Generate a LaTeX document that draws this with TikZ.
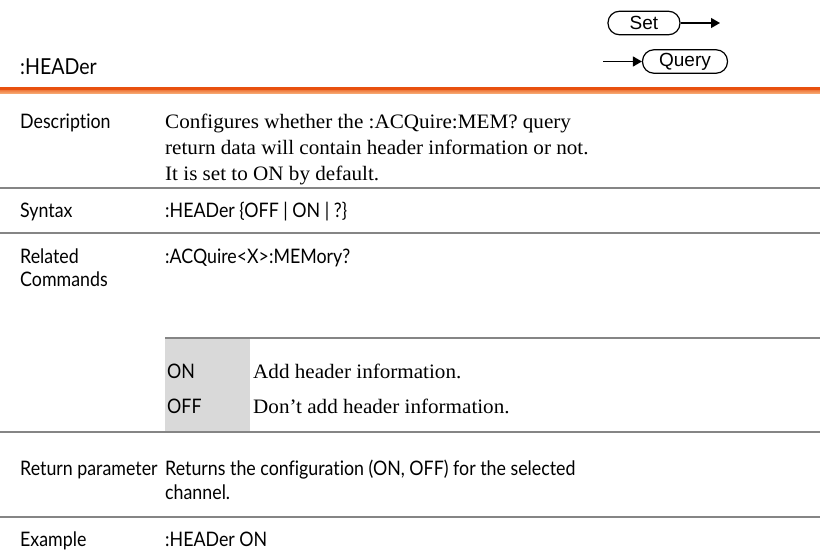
\documentclass[tikz,border=0pt]{standalone}
\usepackage{fontspec}
\setmainfont{Liberation Serif}[FakeStretch=1.03]
\newfontfamily\labelfont{Lato}[Ligatures=NoCommon, FakeStretch=0.89]
\newfontfamily\btnfont{Liberation Sans}
\usetikzlibrary{arrows.meta}
\definecolor{rulegray}{HTML}{858585}
\definecolor{cellgray}{HTML}{D9D9D9}
\definecolor{headorange}{HTML}{E8500E}
\definecolor{headpeach}{HTML}{F6A56E}
\begin{document}
\begin{tikzpicture}[x=1pt,y=-1pt,
  lbl/.style={anchor=base west, inner sep=0pt, font=\labelfont\fontsize{20}{24}\selectfont},
  body/.style={anchor=base west, inner sep=0pt, font=\fontsize{20.5}{26}\selectfont},
  rowrule/.style={draw=rulegray, line width=2pt},
  btn/.style={draw, line width=1.2pt, rounded corners=11.5pt, inner sep=0pt,
    minimum height=23.5pt, font=\btnfont\fontsize{19}{21}\selectfont},
  flow/.style={line width=1.3pt, -{Triangle[length=9pt,width=10pt]}}]
\useasboundingbox (0,0) rectangle (820,552);

% command title and set/query badges
\node[lbl, font=\labelfont\fontsize{22}{26}\selectfont] (title) at (20,74) {:HEADer};
\node[btn, minimum width=72pt] (set) at (644,23) {Set};
\coordinate (setout) at (720,23);
\draw[flow] (set.east) -- (setout);
\node[btn, minimum width=85pt] (query) at (685,61.5) {Query};
\coordinate (queryin) at (603,61.5);
\draw[flow] (queryin) -- (query.west);

% orange heading rule
\shade[top color=headorange, bottom color=headpeach] (0,87) rectangle (820,93);
\fill[headorange] (0,87) rectangle (820,90);

% Description
\node[lbl] (desc) at (20,128) {Description};
\node[body] (desc1) at (165,128) {Configures whether the :ACQuire:MEM? query};
\node[body] (desc2) at (165,154) {return data will contain header information or not.};
\node[body] (desc3) at (165,180) {It is set to ON by default.};
\draw[rowrule] (0,188) -- (820,188);

% Syntax
\node[lbl] (syn) at (20,217) {Syntax};
\node[lbl] (syntxt) at (165,217) {:HEADer \{OFF | ON | ?\}};
\draw[rowrule] (0,233) -- (820,233);

% Related commands
\node[lbl] (rel1) at (20,263) {Related};
\node[lbl] (rel2) at (20,286) {Commands};
\node[lbl] (reltxt) at (165,263) {:ACQuire<X>:MEMory?};

% parameter table
\fill[cellgray] (165,338) rectangle (250,432);
\draw[rowrule] (165,338) -- (820,338);
\node[lbl] (pon) at (167,378) {ON};
\node[body] (ponx) at (253,378) {Add header information.};
\node[lbl] (poff) at (167,413) {OFF};
\node[body] (poffx) at (253,413) {Don’t add header information.};
\draw[rowrule] (0,432) -- (820,432);

% Return parameter
\node[lbl] (ret) at (20,475) {Return parameter};
\node[lbl] (ret1) at (165,475) {Returns the configuration (ON, OFF) for the selected};
\node[lbl] (ret2) at (165,499) {channel.};
\draw[rowrule] (0,517) -- (820,517);

% Example
\node[lbl] (ex) at (20,546) {Example};
\node[lbl] (extxt) at (165,546) {:HEADer ON};
\end{tikzpicture}
\end{document}
